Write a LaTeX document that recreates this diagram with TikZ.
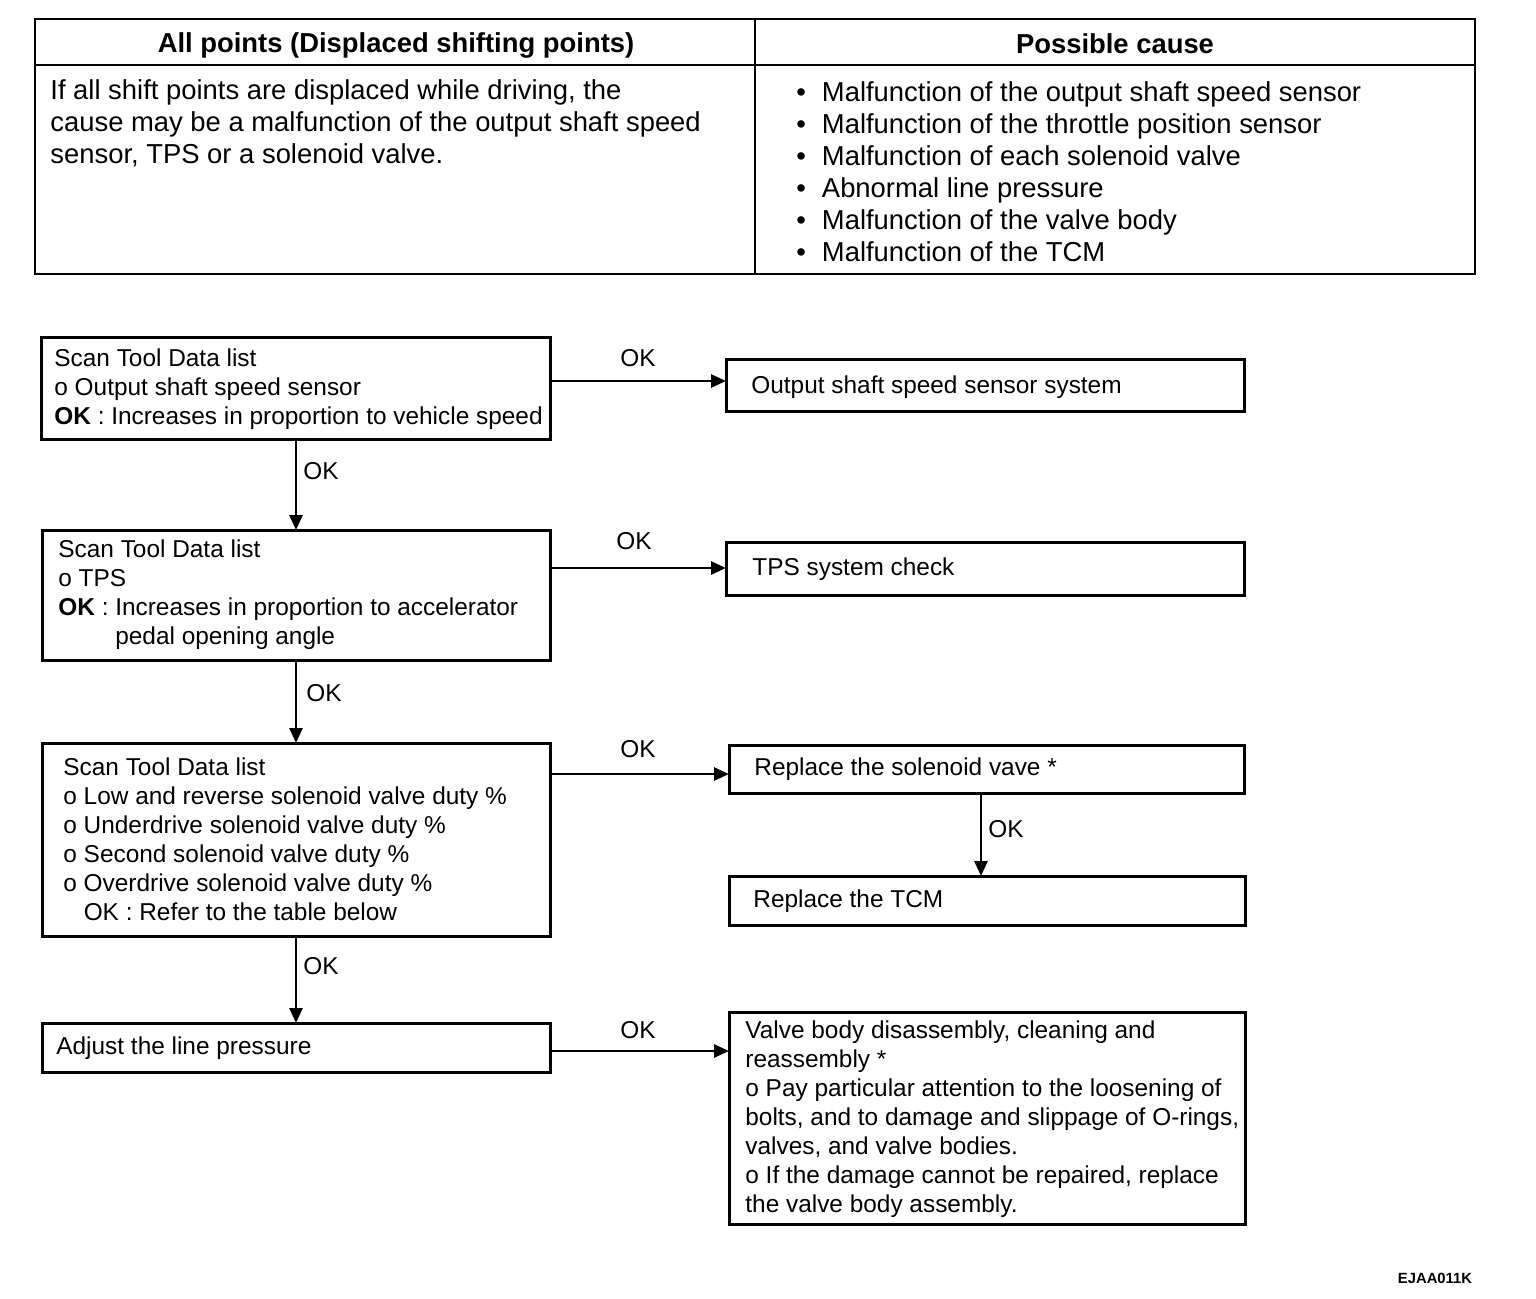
\documentclass[tikz,border=0pt]{standalone}
\usepackage{fontspec}
\setmainfont{Liberation Sans}
\usetikzlibrary{arrows.meta}
\begin{document}
\begin{tikzpicture}[x=0.5pt,y=-0.5pt,
  box/.style={draw, line width=1.5pt, inner sep=0pt, outer sep=0pt},
  tbl/.style={line width=1pt},
  arr/.style={line width=1.4pt, -{Triangle[length=7.5pt,width=6.5pt]}},
  ftxt/.style={anchor=west, align=left, inner sep=0pt, font=\fontsize{12.2}{14.5}\selectfont},
  ttxt/.style={anchor=west, align=left, inner sep=0pt, font=\fontsize{13.7}{16}\selectfont},
  hdr/.style={inner sep=0pt, font=\bfseries\fontsize{13.7}{16}\selectfont},
  oklbl/.style={inner sep=0pt, font=\fontsize{12.2}{14.5}\selectfont}]
\useasboundingbox (0,0) rectangle (1536,1298);

% ---- top table ----
\draw[tbl] (35,19) rectangle (1475,274);
\draw[tbl] (35,65) -- (1475,65);
\draw[tbl] (755,19) -- (755,274);
\node[hdr] (h1) at (396,45) {All points (Displaced shifting points)};
\node[hdr] (h2) at (1115,44) {Possible cause};
\node[ttxt] (t1) at (50,123) {If all shift points are displaced while driving, the\\
cause may be a malfunction of the output shaft speed\\
sensor, TPS or a solenoid valve.};
\node[ttxt] (t2) at (796,172) {•\hspace{8pt}Malfunction of the output shaft speed sensor\\
•\hspace{8pt}Malfunction of the throttle position sensor\\
•\hspace{8pt}Malfunction of each solenoid valve\\
•\hspace{8pt}Abnormal line pressure\\
•\hspace{8pt}Malfunction of the valve body\\
•\hspace{8pt}Malfunction of the TCM};

% ---- flow boxes ----
\node[box, minimum width=254.5pt, minimum height=51pt] (b1) at (295.5,388) {};
\node[box, minimum width=254pt, minimum height=65pt] (b2) at (296,595) {};
\node[box, minimum width=254pt, minimum height=96.5pt] (b3) at (296,839.5) {};
\node[box, minimum width=254pt, minimum height=24.5pt] (b4) at (296,1047.5) {};
\node[box, minimum width=259pt, minimum height=26pt] (r1) at (985,385) {};
\node[box, minimum width=259pt, minimum height=26.5pt] (r2) at (985,568.5) {};
\node[box, minimum width=257.5pt, minimum height=24pt] (r3) at (986.5,769) {};
\node[box, minimum width=258pt, minimum height=24.5pt] (r4) at (987,900.5) {};
\node[box, minimum width=258pt, minimum height=106pt] (r5) at (987,1118) {};

% ---- box texts ----
\node[ftxt] (b1t) at (54,389) {Scan Tool Data list\\
o Output shaft speed sensor\\
\textbf{OK} : Increases in proportion to vehicle speed};
\node[ftxt] (b2t) at (58,595) {Scan Tool Data list\\
o TPS\\
\textbf{OK} : Increases in proportion to accelerator\\
\phantom{\textbf{OK} : }pedal opening angle};
\node[ftxt] (b3t) at (63,839) {Scan Tool Data list\\
o Low and reverse solenoid valve duty \%\\
o Underdrive solenoid valve duty \%\\
o Second solenoid valve duty \%\\
o Overdrive solenoid valve duty \%\\
\phantom{o }OK : Refer to the table below};
\node[ftxt] (b4t) at (56,1048) {Adjust the line pressure};
\node[ftxt] (r1t) at (751,387) {Output shaft speed sensor system};
\node[ftxt] (r2t) at (752,569) {TPS system check};
\node[ftxt] (r3t) at (754,769) {Replace the solenoid vave *};
\node[ftxt] (r4t) at (753,901) {Replace the TCM};
\node[ftxt] (r5t) at (745,1119.5) {Valve body disassembly, cleaning and\\
reassembly *\\
o Pay particular attention to the loosening of\\
bolts, and to damage and slippage of O-rings,\\
valves, and valve bodies.\\
o If the damage cannot be repaired, replace\\
the valve body assembly.};

% ---- connectors ----
\draw[arr] (b1.east |- 0,381) -- (r1.west |- 0,381);
\draw[arr] (b2.east |- 0,568) -- (r2.west |- 0,568);
\draw[arr] (b3.east |- 0,774) -- (r3.west |- 0,774);
\draw[arr] (b4.east |- 0,1051) -- (r5.west |- 0,1051);
\draw[arr] (b2.north |- b1.south) -- (b2.north);
\draw[arr] (b2.south) -- (b3.north);
\draw[arr] (b3.south) -- (b4.north);
\draw[arr] (r3.south -| 981,0) -- (r4.north -| 981,0);

% ---- OK labels ----
\node[oklbl] (ok1) at (638,358) {OK};
\node[oklbl] (ok2) at (634,541) {OK};
\node[oklbl] (ok3) at (638,749) {OK};
\node[oklbl] (ok4) at (638,1030) {OK};
\node[oklbl, anchor=west] (ok5) at (303,471) {OK};
\node[oklbl, anchor=west] (ok6) at (306,693) {OK};
\node[oklbl, anchor=west] (ok7) at (303,966) {OK};
\node[oklbl, anchor=west] (ok8) at (988,829) {OK};

\node[inner sep=0pt, font=\bfseries\fontsize{7.4}{9}\selectfont] (code) at (1435,1278) {EJAA011K};
\end{tikzpicture}
\end{document}
